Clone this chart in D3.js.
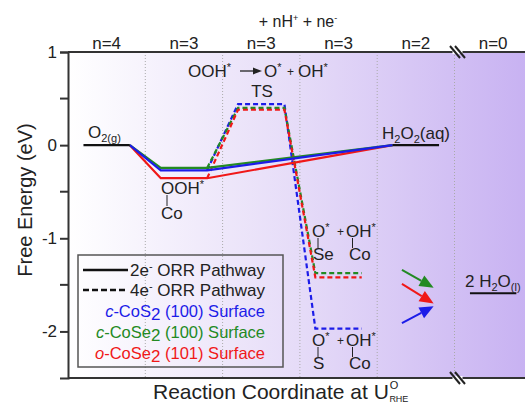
<!DOCTYPE html>
<html>
<head>
<meta charset="utf-8">
<script src="https://cdn.jsdelivr.net/npm/d3@7"></script>
<style>
body { margin: 0; background: #fff; }
text { font-family: "Liberation Sans", Arial, sans-serif; fill: #222; }
</style>
</head>
<body>
<svg id="chart"></svg>
<script>
var width = 525, height = 403

// reaction steps (columns) and the n labels on top
var columns = ["n=4", "n=3", "n=3", "n=3", "n=2", "n=0"]
var yTicks = [1, 0, -1, -2]
var yMinor = [0.5, -0.5, -1.5]

// free energies (eV) for each surface: OOH*, TS, O*+OH*
var surfaces = ["c-CoS2", "c-CoSe2", "o-CoSe2"]
var surfaceColours = ["#1c1ce8", "#238a23", "#f01818"]
var oohLevels = [-0.27, -0.245, -0.355]
var tsLevels = [0.44, 0.40, 0.38]
var ooLevels = [-1.97, -1.375, -1.42]
var o2Level = 0, h2o2Level = 0, h2oLevel = -1.59

var svg = d3.select("#chart")
    .attr("width", width)
    .attr("height", height)

var margin = {left: 68, top: 52, bottom: 378}

var x = d3.scaleLinear()
    .domain([0, 6])
    .range([margin.left, margin.left + 6 * 77.3])

var y = d3.scaleLinear()
    .domain([-2.5, 1])
    .range([margin.bottom, margin.top])

var defs = svg.append("defs")
var grad = defs.append("linearGradient")
    .attr("id", "bg")
    .attr("x1", "0%").attr("x2", "100%")
grad.append("stop").attr("offset", "0%").attr("stop-color", "#ffffff")
grad.append("stop").attr("offset", "50%").attr("stop-color", "#e6dcf8")
grad.append("stop").attr("offset", "100%").attr("stop-color", "#c8b2f2")

svg.append("rect")
    .attr("x", margin.left)
    .attr("y", margin.top)
    .attr("width", width - margin.left)
    .attr("height", margin.bottom - margin.top)
    .attr("fill", "url(#bg)")

// dotted column separators
svg.selectAll(".sep")
    .data(d3.range(1, 6))
    .enter()
    .append("line")
    .attr("x1", d => x(d)).attr("x2", d => x(d))
    .attr("y1", margin.top).attr("y2", margin.bottom)
    .attr("stroke", "#aaa")
    .attr("stroke-width", 1)
    .attr("stroke-dasharray", "1,2")

// axes
var yAxis = d3.axisLeft(y)
    .tickValues(yTicks)
    .tickSize(8)
    .tickFormat(d3.format("d"))
var ga = svg.append("g")
    .attr("transform", "translate(" + margin.left + ",0)")
    .call(yAxis)
ga.select(".domain").attr("stroke", "#333").attr("stroke-width", 2)
ga.selectAll(".tick line").attr("stroke", "#333").attr("stroke-width", 2)
ga.selectAll(".tick text")
    .attr("font-size", 17)
    .attr("font-family", "Liberation Sans, Arial, sans-serif")
    .attr("fill", "#222")
    .attr("x", -11)
    .text(d => d < 0 ? "-" + Math.abs(d) : d)
svg.selectAll(".minor")
    .data(yMinor)
    .enter()
    .append("line")
    .attr("x1", margin.left - 8).attr("x2", margin.left)
    .attr("y1", d => y(d)).attr("y2", d => y(d))
    .attr("stroke", "#333")
    .attr("stroke-width", 2)

svg.append("line")
    .attr("x1", margin.left).attr("x2", width)
    .attr("y1", margin.top).attr("y2", margin.top)
    .attr("stroke", "#333").attr("stroke-width", 2)
svg.append("line")
    .attr("x1", margin.left).attr("x2", width)
    .attr("y1", margin.bottom).attr("y2", margin.bottom)
    .attr("stroke", "#333").attr("stroke-width", 2)

// axis break marks
function breakMark(cx, cy) {
    var b = svg.append("g")
    b.append("line")
        .attr("x1", cx - 5).attr("x2", cx + 5)
        .attr("y1", cy).attr("y2", cy)
        .attr("stroke", "#fff").attr("stroke-width", 4)
    ;[-2.5, 2.5].forEach(function(o) {
        b.append("line")
            .attr("x1", cx + o - 5).attr("y1", cy - 6)
            .attr("x2", cx + o + 5).attr("y2", cy + 6)
            .attr("stroke", "#222").attr("stroke-width", 2)
    })
}
breakMark(x(5) + 3, margin.top)
breakMark(x(5) + 3, margin.bottom)

// column labels
svg.selectAll(".col")
    .data(columns)
    .enter()
    .append("text")
    .attr("x", (d, i) => x(i + 0.5))
    .attr("y", 49)
    .attr("text-anchor", "middle")
    .attr("font-size", 17)
    .text(d => d)

var topLabel = svg.append("text")
    .attr("x", 298).attr("y", 27)
    .attr("text-anchor", "middle")
    .attr("font-size", 16)
topLabel.append("tspan").text("+ nH")
topLabel.append("tspan").text("+").attr("font-size", 9).attr("dy", -6)
topLabel.append("tspan").text(" + ne").attr("dy", 6)
topLabel.append("tspan").text("-").attr("font-size", 9).attr("dy", -6)

svg.append("text")
    .attr("transform", "translate(32,200) rotate(-90)")
    .attr("text-anchor", "middle")
    .attr("font-size", 20)
    .text("Free Energy (eV)")

var xl = svg.append("text")
    .attr("x", 153).attr("y", 399)
    .attr("font-size", 21)
xl.append("tspan").text("Reaction Coordinate at U")
xl.append("tspan").text("O").attr("font-size", 11).attr("dx", 1).attr("dy", -10)
xl.append("tspan").text("RHE").attr("font-size", 9).attr("dx", -9).attr("dy", 13)

// energy levels
var line = d3.line().x(d => x(d[0])).y(d => y(d[1]))

function level(col, v, colour, dashed) {
    svg.append("path")
        .attr("d", line([[col + 0.2, v], [col + 0.8, v]]))
        .attr("stroke", colour)
        .attr("stroke-width", 2.2)
        .attr("fill", "none")
        .attr("stroke-dasharray", dashed ? "5,3" : null)
}

surfaces.forEach(function(s, i) {
    var c = surfaceColours[i]
    // 4e- pathway (dashed)
    svg.append("path")
        .attr("d", line([[1.8, oohLevels[i]], [2.2, tsLevels[i]], [2.8, tsLevels[i]],
            [3.2, ooLevels[i]], [3.8, ooLevels[i]]]))
        .attr("stroke", c)
        .attr("stroke-width", 2.2)
        .attr("fill", "none")
        .attr("stroke-dasharray", "5,3")
})
;[0, 1, 2].reverse().forEach(function(i) {
    var c = surfaceColours[i]
    // 2e- pathway (solid)
    svg.append("path")
        .attr("d", line([[0.8, o2Level], [1.2, oohLevels[i]], [1.8, oohLevels[i]], [4.2, h2o2Level]]))
        .attr("stroke", c)
        .attr("stroke-width", 2.2)
        .attr("fill", "none")
})
level(0, o2Level, "#111", false)
level(4, h2o2Level, "#111", false)
level(5, h2oLevel, "#111", false)

// arrows towards 2 H2O
var arrows = [
    {c: 1, from: [4.32, -1.34], to: [4.73, -1.53]},
    {c: 2, from: [4.32, -1.49], to: [4.73, -1.70]},
    {c: 0, from: [4.32, -1.91], to: [4.73, -1.73]}
]
arrows.forEach(function(a) {
    var x1 = x(a.from[0]), y1 = y(a.from[1]), x2 = x(a.to[0]), y2 = y(a.to[1])
    var ang = Math.atan2(y2 - y1, x2 - x1)
    var L = 14, W = 6
    var bx = x2 - L * Math.cos(ang), by = y2 - L * Math.sin(ang)
    svg.append("line")
        .attr("x1", x1).attr("y1", y1).attr("x2", bx).attr("y2", by)
        .attr("stroke", surfaceColours[a.c]).attr("stroke-width", 2)
    svg.append("path")
        .attr("d", "M" + x2 + "," + y2 +
            "L" + (bx + W * Math.sin(ang)) + "," + (by - W * Math.cos(ang)) +
            "L" + (bx - W * Math.sin(ang)) + "," + (by + W * Math.cos(ang)) + "Z")
        .attr("fill", surfaceColours[a.c])
})

// species labels
function label(tx, ty, parts, size) {
    var t = svg.append("text").attr("x", tx).attr("y", ty).attr("font-size", size || 17)
    var shift = 0
    parts.forEach(function(p) {
        var dy = (p.sub ? 4 : p.sup ? -6 : 0) - shift
        shift += dy
        t.append("tspan").text(p.t).attr("dy", dy).attr("font-size", p.sub || p.sup ? 11 : null)
    })
    return t
}
label(88, 138, [{t: "O"}, {t: "2(g)", sub: true}])
label(382, 139, [{t: "H"}, {t: "2", sub: true}, {t: "O"}, {t: "2", sub: true}, {t: "(aq)"}])
label(465, 287, [{t: "2 H"}, {t: "2", sub: true}, {t: "O"}, {t: "(l)", sub: true}])

label(161, 194, [{t: "OOH"}, {t: "*", sup: true}])
label(161, 219, [{t: "Co"}])
svg.append("line").attr("x1", 167).attr("x2", 167).attr("y1", 195).attr("y2", 206)
    .attr("stroke", "#222").attr("stroke-width", 1)

function ooLabel(ty, metal) {
    label(312, ty, [{t: "O"}, {t: "*", sup: true}])
    label(337, ty - 1, [{t: "+"}], 12)
    label(346, ty, [{t: "OH"}, {t: "*", sup: true}])
    label(313, ty + 23, [{t: metal}])
    label(349, ty + 23, [{t: "Co"}])
    svg.append("line").attr("x1", 318).attr("x2", 318).attr("y1", ty + 1).attr("y2", ty + 11)
        .attr("stroke", "#222").attr("stroke-width", 1)
    svg.append("line").attr("x1", 352.5).attr("x2", 352.5).attr("y1", ty + 1).attr("y2", ty + 11)
        .attr("stroke", "#222").attr("stroke-width", 1)
}
ooLabel(237, "Se")
ooLabel(346, "S")

label(188, 77, [{t: "OOH"}, {t: "*", sup: true}])
svg.append("line").attr("x1", 240).attr("x2", 254).attr("y1", 71).attr("y2", 71)
    .attr("stroke", "#222").attr("stroke-width", 1.3)
svg.append("path").attr("d", "M262,71L253,67.5L253,74.5Z").attr("fill", "#222")
label(264, 77, [{t: "O"}, {t: "*", sup: true}])
label(287, 76, [{t: "+"}], 12)
label(298, 77, [{t: "OH"}, {t: "*", sup: true}])
svg.append("text").attr("x", 262).attr("y", 97).attr("text-anchor", "middle")
    .attr("font-size", 17).text("TS")

// legend
svg.append("rect")
    .attr("x", 78).attr("y", 255)
    .attr("width", 205).attr("height", 112)
    .attr("fill", "none")
    .attr("stroke", "#555")
    .attr("stroke-width", 1.5)
svg.append("line").attr("x1", 83).attr("x2", 128).attr("y1", 270).attr("y2", 270)
    .attr("stroke", "#111").attr("stroke-width", 2.5)
svg.append("line").attr("x1", 83).attr("x2", 128).attr("y1", 290).attr("y2", 290)
    .attr("stroke", "#111").attr("stroke-width", 2.5).attr("stroke-dasharray", "6,3")
label(130, 276, [{t: "2e"}, {t: "-", sup: true}, {t: " ORR Pathway"}])
label(130, 296, [{t: "4e"}, {t: "-", sup: true}, {t: " ORR Pathway"}])

var legendNames = [["c", "-CoS", "2", " (100) Surface"], ["c", "-CoSe", "2", " (100) Surface"], ["o", "-CoSe", "2", " (101) Surface"]]
legendNames.forEach(function(n, i) {
    var t = svg.append("text")
        .attr("x", 265).attr("y", 317 + i * 21)
        .attr("text-anchor", "end")
        .attr("font-size", 16.5)
        .style("fill", surfaceColours[i])
    t.append("tspan").text(n[0]).attr("font-style", "italic")
    t.append("tspan").text(n[1])
    t.append("tspan").text(n[2]).attr("font-size", 17).attr("dy", 3)
    t.append("tspan").text(n[3]).attr("dy", -3)
})
</script>
</body>
</html>
